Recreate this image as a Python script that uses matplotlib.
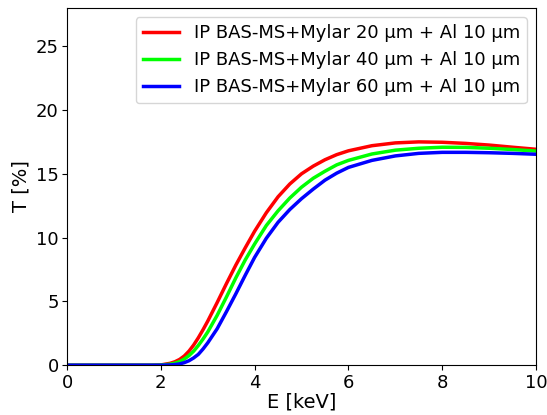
import matplotlib.pyplot as plt

# energy grid [keV]
energy = [0, 1.0, 1.8, 2.0, 2.2, 2.3, 2.4, 2.5, 2.6, 2.7, 2.8, 2.9, 3.0, 3.2,
          3.4, 3.6, 3.8, 4.0, 4.25, 4.5, 4.75, 5.0, 5.25, 5.5, 5.75, 6.0,
          6.5, 7.0, 7.5, 8.0, 8.5, 9.0, 9.5, 10.0]

# transmission [%] for each filter stack
t_mylar20 = [0, 0, 0, 0.02, 0.15, 0.27, 0.45, 0.72, 1.1, 1.58, 2.15, 2.78,
             3.45, 4.9, 6.4, 7.85, 9.2, 10.5, 11.95, 13.2, 14.2, 15.0, 15.6,
             16.1, 16.5, 16.8, 17.2, 17.42, 17.5, 17.47, 17.38, 17.25, 17.08,
             16.92]
t_mylar40 = [0, 0, 0, 0.01, 0.08, 0.16, 0.28, 0.48, 0.75, 1.1, 1.55, 2.05,
             2.6, 3.9, 5.35, 6.85, 8.25, 9.5, 10.95, 12.1, 13.1, 13.95, 14.65,
             15.2, 15.7, 16.05, 16.55, 16.85, 17.0, 17.08, 17.07, 17.0, 16.9,
             16.78]
t_mylar60 = [0, 0, 0, 0, 0.02, 0.05, 0.1, 0.2, 0.35, 0.57, 0.85, 1.27,
             1.75, 2.85, 4.2, 5.6, 7.05, 8.45, 9.95, 11.2, 12.2, 13.05, 13.8,
             14.5, 15.05, 15.5, 16.05, 16.4, 16.6, 16.68, 16.68, 16.65, 16.6,
             16.53]

labels = ['IP BAS-MS+Mylar 20 µm + Al 10 µm',
          'IP BAS-MS+Mylar 40 µm + Al 10 µm',
          'IP BAS-MS+Mylar 60 µm + Al 10 µm']

fig, ax = plt.subplots(figsize=(5.47, 4.15), dpi=100)
fig.subplots_adjust(left=0.1225, right=0.98, top=0.981, bottom=0.12)

ax.plot(energy, t_mylar20, c='r', lw=2.5, label=labels[0])
ax.plot(energy, t_mylar40, c='lime', lw=2.5, label=labels[1])
ax.plot(energy, t_mylar60, c='b', lw=2.5, label=labels[2])

ax.set_xlim(0, 10)
ax.set_ylim(0, 28)
ax.set_xlabel('E [keV]', fontsize=14, labelpad=1)
ax.set_ylabel('T [%]', fontsize=14)
ax.tick_params(labelsize=13, pad=2.5)
ax.legend(loc='upper right', fontsize=13)

plt.savefig('out.png')
